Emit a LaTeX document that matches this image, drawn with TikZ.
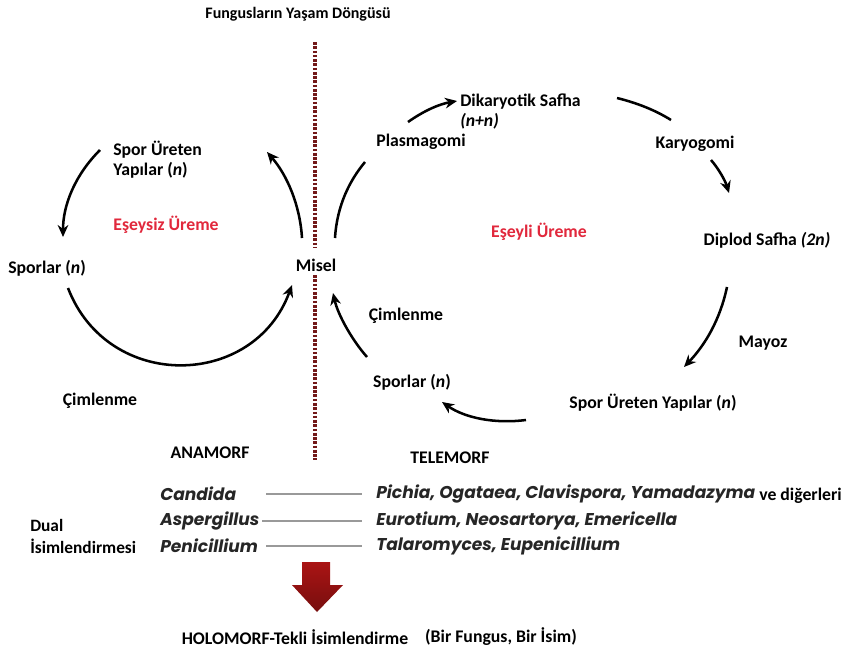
\documentclass[tikz,border=0pt]{standalone}
\usepackage{fontspec}
\setmainfont{Carlito}
\newfontfamily\genusfont{Poppins}
\usetikzlibrary{arrows.meta, calc}
\definecolor{uremered}{RGB}{225,40,60}
\definecolor{hatred}{RGB}{115,25,25}
\definecolor{okred}{RGB}{170,20,20}
\tikzset{
  lbl/.style={font=\fontsize{13.3}{15}\selectfont\bfseries, inner sep=0pt},
  redlbl/.style={lbl, text=uremered},
  genus/.style={font=\genusfont\fontsize{12.8}{15}\selectfont\bfseries\itshape, text=black!85, inner sep=0pt, anchor=west},
  cyc/.style={line width=1.9pt, -{Stealth[length=9pt, width=8pt]}},
  cycopen/.style={line width=1.9pt},
  guide/.style={line width=1.1pt, black!40},
  divider/.style={hatred, line width=2.8pt, dash pattern=on 2pt off 1.2pt},
}

\begin{document}
\begin{tikzpicture}[x=0.75pt, y=-0.75pt]
  \useasboundingbox (0,0) rectangle (848,652);
  \node[lbl, font=\fontsize{12}{15}\selectfont\bfseries] (title) at (298,14) {Fungusların Yaşam Döngüsü};

  % eseysiz ureme
  \node[lbl, align=left, anchor=west] (sporuretsol) at (113,160) {Spor Üreten\\Yapılar (\textit{n})};
  \node[redlbl] (eseysiz) at (166,225) {Eşeysiz Üreme};
  \node[lbl, anchor=west] (sporsol) at (8,268) {Sporlar (\textit{n})};
  \node[lbl] (misel) at (316,265) {Misel};
  \node[lbl] (cimsol) at (100,401) {Çimlenme};
  \node[lbl] (anamorf) at (210,453) {ANAMORF};

  % eseyli ureme
  \node[lbl] (plasma) at (421,142) {Plasmagomi};
  \node[lbl, align=left, anchor=west] (dikaryo) at (460,112) {Dikaryotik Safha\\\textit{(n+n)}};
  \node[lbl] (karyo) at (695,144) {Karyogomi};
  \node[redlbl] (eseyli) at (539,232) {Eşeyli Üreme};
  \node[lbl] (diplod) at (767,240) {Diplod Safha \textit{(2n)}};
  \node[lbl] (mayoz) at (763,343) {Mayoz};
  \node[lbl] (sporuretsag) at (653,403) {Spor Üreten Yapılar (\textit{n})};
  \node[lbl] (sporsag) at (412,382) {Sporlar (\textit{n})};
  \node[lbl] (cimsag) at (406,316) {Çimlenme};
  \node[lbl] (telemorf) at (450,458) {TELEMORF};

  % dotted divider, broken at Misel
  \coordinate (divtop) at (315,42);
  \coordinate (divbot) at (315,460);
  \draw[divider] (divtop) -- (divtop |- 0,248);
  \draw[divider] (divbot |- 0,275) -- (divbot);

  % arrow ends
  \coordinate (sporuretsol-out) at (100,150);
  \coordinate (sporsol-in) at (63,237);
  \coordinate (sporsol-out) at (68,288);
  \coordinate (misel-inl) at (292,285);
  \coordinate (misel-outl) at (302,238);
  \coordinate (sporuretsol-in) at (267,152);
  \coordinate (misel-outr) at (335,238);
  \coordinate (plasma-in) at (365,162);
  \coordinate (plasma-out) at (408,122);
  \coordinate (dikaryo-in) at (457,101);
  \coordinate (dikaryo-out) at (617,98);
  \coordinate (karyo-in) at (671,120);
  \coordinate (karyo-out) at (711,160);
  \coordinate (diplod-in) at (729,193);
  \coordinate (diplod-out) at (727,287);
  \coordinate (sporuretsag-in) at (684,367);
  \coordinate (sporuretsag-out) at (526,420);
  \coordinate (sporsag-in) at (442,402);
  \coordinate (sporsag-out) at (367,357);
  \coordinate (misel-inr) at (333,293);

  \draw[cyc] (sporuretsol-out) .. controls (75,175) and (63,205) .. (sporsol-in);
  \draw[cyc] (sporsol-out) .. controls (108,392) and (254,389) .. (misel-inl);
  \draw[cyc] (misel-outl) .. controls (300,205) and (287,175) .. (sporuretsol-in);
  \draw[cycopen] (misel-outr) .. controls (337,205) and (350,180) .. (plasma-in);
  \draw[cyc] (plasma-out) .. controls (425,110) and (440,104) .. (dikaryo-in);
  \draw[cycopen] (dikaryo-out) .. controls (637,103) and (655,110) .. (karyo-in);
  \draw[cyc] (karyo-out) .. controls (718,168) and (725,180) .. (diplod-in);
  \draw[cyc] (diplod-out) .. controls (720,320) and (705,345) .. (sporuretsag-in);
  \draw[cyc] (sporuretsag-out) .. controls (495,424) and (465,418) .. (sporsag-in);
  \draw[cyc] (sporsag-out) .. controls (352,340) and (338,315) .. (misel-inr);

  % isimlendirme
  \node[lbl, align=left, anchor=west, font=\fontsize{13}{16.5}\selectfont\bfseries] (dual) at (30,536) {Dual\\İsimlendirmesi};
  \node[genus] (candida) at (160,494) {Candida};
  \node[genus] (asper) at (160,521) {Aspergillus};
  \node[genus] (penic) at (160,546) {Penicillium};
  \node[genus] (pichia) at (376,494) {Pichia, Ogataea, Clavispora, Yamadazyma};
  \node[lbl, anchor=west] (digerleri) at (759,496) {ve diğerleri};
  \node[genus] (euro) at (376,521) {Eurotium, Neosartorya, Emericella};
  \node[genus] (talaro) at (376,546) {Talaromyces, Eupenicillium};
  \coordinate (gl) at (266,0);
  \draw[guide, shorten >=10.5pt] (gl |- candida) -- (pichia.west);
  \draw[guide, shorten >=10.5pt] ($(gl |- asper)+(-4,0)$) -- (euro.west);
  \draw[guide, shorten >=10.5pt] (gl |- penic) -- (talaro.west);

  \shade[top color=okred, bottom color=okred!70!black]
    (302,562) -- (330,562) -- (330,585) -- (343,585) -- (317,612) -- (292,585) -- (302,585) -- cycle;
  \node[lbl] (holo) at (295,637) {HOLOMORF-Tekli İsimlendirme};
  \node[lbl] (birfungus) at (501,637) {(Bir Fungus, Bir İsim)};
\end{tikzpicture}
\end{document}
